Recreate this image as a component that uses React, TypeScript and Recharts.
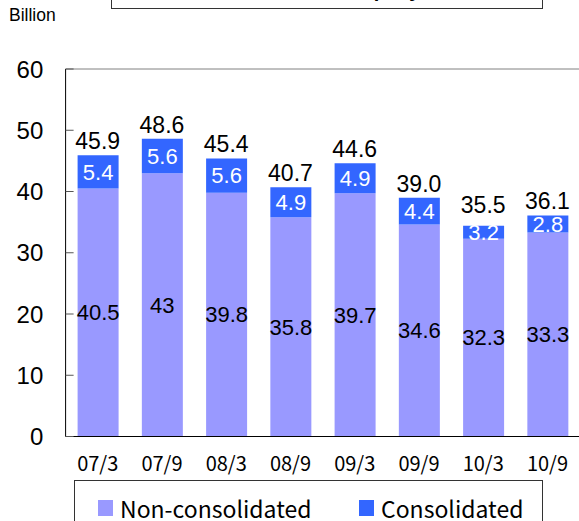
import React from 'react';
import { ComposedChart, Bar, Line, XAxis, YAxis, LabelList, ReferenceLine } from 'recharts';

const categories = ['07/3', '07/9', '08/3', '08/9', '09/3', '09/9', '10/3', '10/9'];
const nonConsolidated = [40.5, 43, 39.8, 35.8, 39.7, 34.6, 32.3, 33.3];
const consolidated = [5.4, 5.6, 5.6, 4.9, 4.9, 4.4, 2.1, 2.8];
const consolidatedLabels = ['5.4', '5.6', '5.6', '4.9', '4.9', '4.4', '3.2', '2.8'];
const totals = [45.9, 48.6, 45.4, 40.7, 44.6, 39.0, 35.5, 36.1];
const yTicks = [0, 10, 20, 30, 40, 50, 60];
const seriesNames = ['Non-consolidated', 'Consolidated'];
const seriesColors = ['#9999FF', '#3366FF'];
const unitLabel = 'Billion';
const titleText = 'Assets of Company';

const data = categories.map((c, i) => ({
  cat: c,
  non: nonConsolidated[i],
  cons: consolidated[i],
  consLabel: consolidatedLabels[i],
  total: totals[i],
}));

const jpFont = '"Noto Sans CJK JP", sans-serif';
const sansFont = '"Liberation Sans", Arial, sans-serif';

export default function App() {
  return (
    <div style={{ position: 'absolute', left: 0, top: 0, width: 579, height: 521, overflow: 'hidden', background: '#fff' }}>
      {/* title box (clipped at the top) */}
      <div style={{ position: 'absolute', left: 111, top: -41, width: 430, height: 48, border: '1px solid #333' }}>
        <div style={{ position: 'absolute', left: 0, right: 0, top: 20, textAlign: 'center', fontFamily: sansFont, fontWeight: 'bold', fontSize: 20, lineHeight: '20px', color: '#000' }}>
          {titleText}
        </div>
      </div>
      <div style={{ position: 'absolute', left: 9, top: 5, fontFamily: sansFont, fontSize: 17.5, color: '#000', lineHeight: '20px' }}>{unitLabel}</div>
      <div style={{ position: 'absolute', left: 0, top: 0 }}>
        <ComposedChart
          width={590}
          height={521}
          data={data}
          margin={{ top: 69, right: 10.4, left: 5.6, bottom: 44.5 }}
        >
          <XAxis
            dataKey="cat"
            axisLine={{ stroke: '#000', strokeWidth: 1 }}
            tickLine={false}
            tickMargin={14}
            height={40}
            interval={0}
            tick={{ fill: '#000', fontSize: 20, fontFamily: jpFont }}
          />
          <YAxis
            domain={[0, 60]}
            ticks={yTicks}
            width={60}
            axisLine={{ stroke: '#000', strokeWidth: 1 }}
            tickLine={{ stroke: '#555' }}
            tickSize={-8}
            tickMargin={30.3}
            interval={0}
            tick={{ fill: '#000', fontSize: 24, fontFamily: sansFont }}
          />
          <ReferenceLine y={60} stroke="#808080" strokeWidth={1} />
          <Bar dataKey="non" stackId="a" fill={seriesColors[0]} barSize={41} isAnimationActive={false}>
            <LabelList dataKey="non" position="center" fill="#000" fontSize={22} fontFamily={sansFont} />
          </Bar>
          <Bar dataKey="cons" stackId="a" fill={seriesColors[1]} barSize={41} isAnimationActive={false}>
            <LabelList dataKey="consLabel" position="center" fill="#fff" fontSize={22} fontFamily={sansFont} />
          </Bar>
          <Line dataKey="total" stroke="none" dot={false} activeDot={false} isAnimationActive={false} legendType="none">
            <LabelList
              dataKey="total"
              position="top"
              offset={6}
              fill="#000"
              fontSize={23}
              fontFamily={sansFont}
              formatter={(v: any) => Number(v).toFixed(1)}
            />
          </Line>
        </ComposedChart>
      </div>
      {/* legend box */}
      <div style={{ position: 'absolute', left: 74, top: 480, width: 467, height: 60, border: '1px solid #333', background: '#fff' }}>
        {seriesNames.map((n, i) => (
          <div key={n} style={{ position: 'absolute', left: i === 0 ? 23 : 284, top: 12, display: 'flex', alignItems: 'center', whiteSpace: 'nowrap' }}>
            <div style={{ width: 15, height: 16, background: seriesColors[i], marginRight: 7 }} />
            <span style={{ fontFamily: jpFont, fontSize: 23, lineHeight: '30px', color: '#000' }}>{n}</span>
          </div>
        ))}
      </div>
    </div>
  );
}
